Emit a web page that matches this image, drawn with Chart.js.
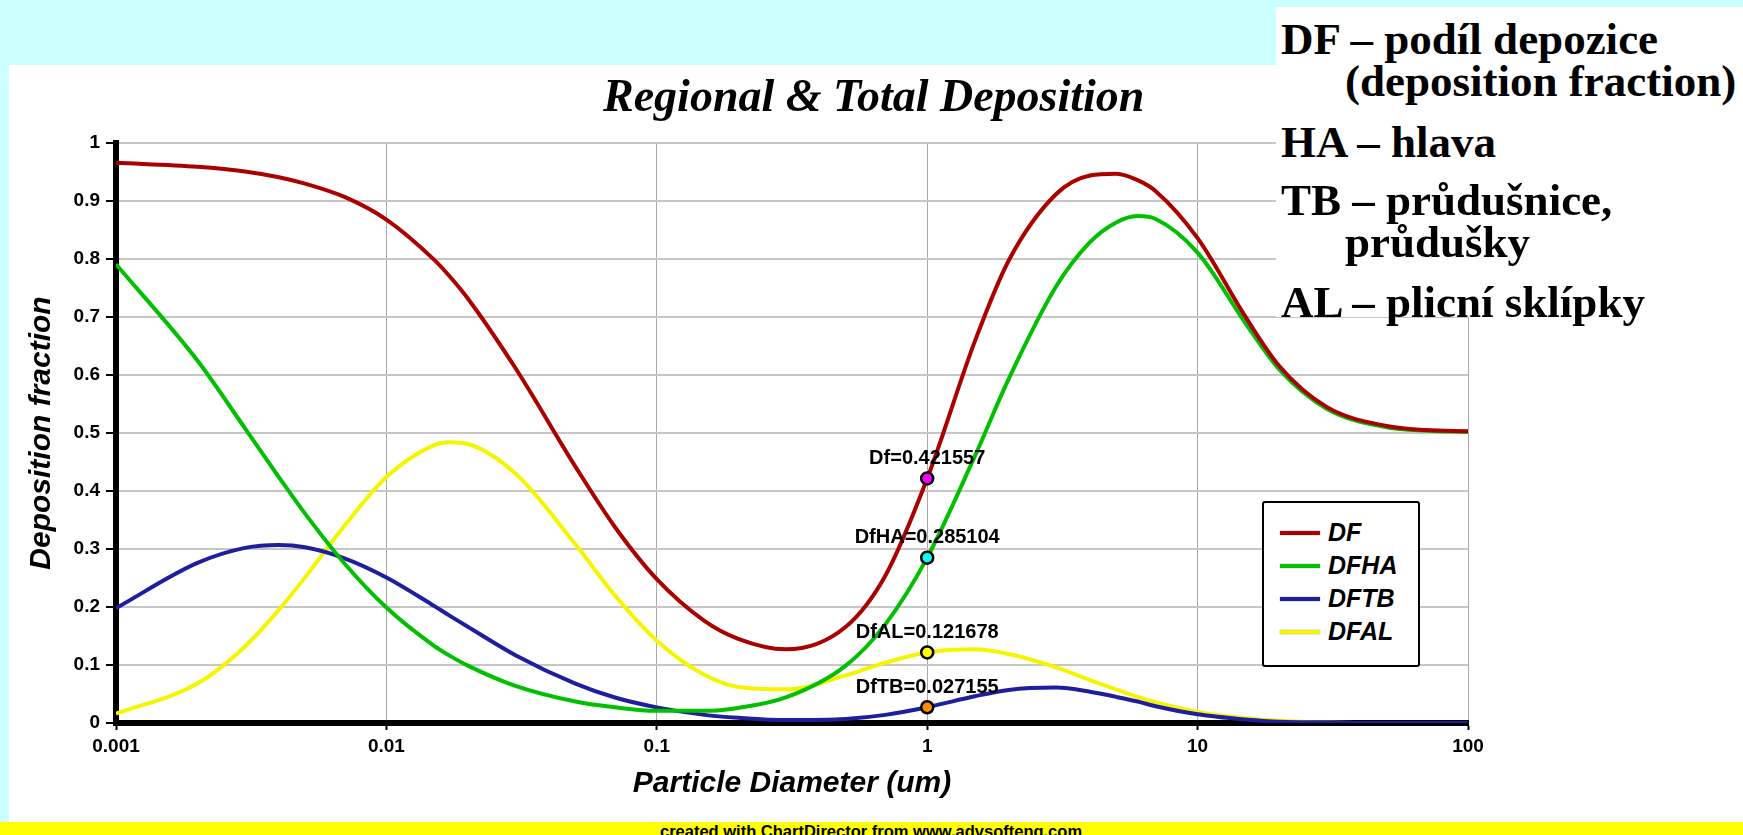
<!DOCTYPE html>
<html lang="cs">
<head>
<meta charset="utf-8">
<title>Regional &amp; Total Deposition</title>
<script src="https://cdn.jsdelivr.net/npm/chart.js@4.4.1/dist/chart.umd.min.js"></script>
<style>
  html, body { margin: 0; padding: 0; }
  body {
    width: 1743px; height: 835px; position: relative; overflow: hidden;
    background: #ccffff; font-family: 'Liberation Sans', Arial, sans-serif;
  }
  #panel { position: absolute; left: 9px; top: 65px; width: 1734px; height: 757px; background: #fff; }
  #footer { position: absolute; left: 0; top: 822px; width: 1743px; height: 13px; background: #ffff00; overflow: hidden; }
  #footer span { position: absolute; left: 660px; top: 1px; font: bold 16.5px/16.5px 'Liberation Sans', Arial, sans-serif; white-space: nowrap; }
  #chart { position: absolute; left: 0; top: 0; }
  #title { position: absolute; left: 603px; top: 73px; font: italic bold 46px/46px 'Liberation Serif', serif; white-space: nowrap; }

  #legend {
    position: absolute; left: 1262px; top: 501px; width: 158px; height: 166px;
    box-sizing: border-box; border: 2.5px solid #000; border-radius: 3px; background: #fff;
    padding: 13px 0 0 16px;
  }
  .legend-row { height: 33px; display: flex; align-items: center; font: italic bold 25px 'Liberation Sans', Arial, sans-serif; }
  .legend-swatch { display: inline-block; width: 40px; height: 4px; margin-right: 8px; box-shadow: 0 0 1px #000; }

  #notes { position: absolute; left: 1276px; top: 7px; width: 467px; height: 310px; background: #fff; }
  .note { position: absolute; font: bold 45px/45px 'Liberation Serif', serif; white-space: nowrap; }
</style>
</head>
<body>
<div id="panel"></div>
<div id="footer"><span>created with ChartDirector from www.advsofteng.com</span></div>
<canvas id="chart" width="1743" height="835"></canvas>
<div id="title">Regional &amp; Total Deposition</div>
<div id="legend"></div>
<div id="notes">
  <div class="note" style="left:5px;top:10px">DF – podíl depozice</div>
  <div class="note" style="left:69px;top:52px">(deposition fraction)</div>
  <div class="note" style="left:5px;top:113px">HA – hlava</div>
  <div class="note" style="left:5px;top:171px">TB – průdušnice,</div>
  <div class="note" style="left:69px;top:213px">průdušky</div>
  <div class="note" style="left:5px;top:273px">AL – plicní sklípky</div>
</div>

<script>
'use strict';
/* ============================================================
   Regional & Total Deposition — deposition fraction vs. particle size
   ============================================================ */

// particle diameter (um)
const diameters = [0.001, 0.002, 0.003, 0.004, 0.005, 0.007, 0.01, 0.015, 0.017, 0.02, 0.03, 0.05, 0.07,
                   0.1, 0.15, 0.2, 0.3, 0.5, 0.7, 1, 1.5, 2, 3, 4, 5, 6, 7, 10, 15, 20, 30, 50, 70, 100];

const dfTotal    = [0.966, 0.959, 0.951, 0.941, 0.930, 0.907, 0.868, 0.799, 0.772, 0.732, 0.612, 0.442, 0.338,
                    0.248, 0.176, 0.145, 0.127, 0.166, 0.254, 0.421557, 0.658, 0.797, 0.912, 0.944, 0.947,
                    0.936, 0.917, 0.836, 0.701, 0.616, 0.545, 0.512, 0.505, 0.503];
const dfHead     = [0.791, 0.625, 0.508, 0.424, 0.361, 0.275, 0.199, 0.133, 0.117, 0.099, 0.064, 0.037, 0.027,
                    0.021, 0.021, 0.026, 0.044, 0.099, 0.170, 0.285104, 0.460, 0.593, 0.753, 0.829, 0.863,
                    0.874, 0.869, 0.811, 0.690, 0.610, 0.542, 0.510, 0.504, 0.502];
const dfTracheo  = [0.198, 0.276, 0.302, 0.307, 0.303, 0.284, 0.251, 0.202, 0.186, 0.166, 0.117, 0.068, 0.044,
                    0.027, 0.014, 0.009, 0.005, 0.007, 0.014, 0.027155, 0.046, 0.057, 0.061, 0.054, 0.045,
                    0.037, 0.029, 0.015, 0.006, 0.002, 0.001, 0, 0, 0];
const dfAlveolar = [0.016, 0.068, 0.132, 0.195, 0.251, 0.340, 0.424, 0.479, 0.484, 0.481, 0.430, 0.308, 0.220,
                    0.142, 0.083, 0.062, 0.058, 0.082, 0.104, 0.121678, 0.127, 0.119, 0.096, 0.074, 0.058,
                    0.045, 0.036, 0.019, 0.008, 0.004, 0.001, 0, 0, 0];

const seriesNames  = ['DF', 'DFHA', 'DFTB', 'DFAL'];
const seriesValues = [dfTotal, dfHead, dfTracheo, dfAlveolar];
const seriesColors = ['#aa0000', '#00c000', '#1e1e9e', '#f5f500'];

// marked values at 1 um
const markerX      = 1;
const markerNames  = ['Df', 'DfHA', 'DfTB', 'DfAL'];
const markerValues = [0.421557, 0.285104, 0.027155, 0.121678];
const markerColors = ['#ff00ff', '#00ffff', '#ff8c00', '#ffff00'];

const xTicks      = [0.001, 0.01, 0.1, 1, 10, 100];
const xTickLabels = ['0.001', '0.01', '0.1', '1', '10', '100'];
const yTicks      = [0, 0.1, 0.2, 0.3, 0.4, 0.5, 0.6, 0.7, 0.8, 0.9, 1];
const yTickLabels = ['0', '0.1', '0.2', '0.3', '0.4', '0.5', '0.6', '0.7', '0.8', '0.9', '1'];

const FONT = "'Liberation Sans', Arial, sans-serif";
Chart.defaults.font.family = FONT;
Chart.defaults.color = '#000';

// ── value labels above the markers ──────────────────────────
const markerLabels = {
  id: 'markerLabels',
  afterDatasetsDraw(chart) {
    const idx = chart.data.datasets.findIndex(d => d.isMarker);
    const meta = chart.getDatasetMeta(idx);
    const ctx = chart.ctx;
    ctx.save();
    ctx.font = `bold 20px ${FONT}`;
    ctx.fillStyle = '#000';
    ctx.textAlign = 'center';
    ctx.textBaseline = 'middle';
    meta.data.forEach((pt, i) => {
      ctx.fillText(`${markerNames[i]}=${markerValues[i]}`, pt.x, pt.y - 20);
    });
    ctx.restore();
  }
};

const lineSets = seriesNames.map((name, s) => ({
  label: name,
  data: diameters.map((x, i) => ({ x, y: seriesValues[s][i] })),
  borderColor: seriesColors[s],
  borderWidth: 4,
  pointRadius: 0,
  cubicInterpolationMode: 'monotone',
  fill: false
}));

const markerSet = {
  label: 'markers',
  isMarker: true,
  type: 'scatter',
  order: -1,
  data: markerValues.map(v => ({ x: markerX, y: v })),
  pointRadius: 6,
  pointBorderWidth: 2.5,
  pointBorderColor: '#000',
  pointBackgroundColor: markerColors,
  showLine: false
};

const chart = new Chart(document.getElementById('chart'), {
  type: 'line',
  data: { datasets: [...lineSets, markerSet] },
  options: {
    responsive: false,
    devicePixelRatio: 1,
    animation: false,
    layout: { padding: { left: 20, right: 275, top: 143, bottom: 29 } },
    plugins: { legend: { display: false }, tooltip: { enabled: false } },
    scales: {
      x: {
        type: 'logarithmic',
        min: 0.001,
        max: 100,
        afterBuildTicks: axis => { axis.ticks = xTicks.map(v => ({ value: v })); },
        afterFit: axis => { axis.height = 83; },
        ticks: {
          callback: (v, i) => xTickLabels[i],
          font: { size: 19, weight: 'bold' },
          color: '#000',
          padding: 5,
          autoSkip: false,
          maxRotation: 0
        },
        grid: { color: '#a8a8a8', lineWidth: 1, tickLength: 7, tickColor: '#000', tickWidth: 2 },
        border: { display: true, color: '#000', width: 6 },
        title: {
          display: true,
          text: 'Particle Diameter (um)',
          font: { size: 30, weight: 'bold', style: 'italic' },
          color: '#000',
          padding: { top: 4, bottom: 4 }
        }
      },
      y: {
        min: 0,
        max: 1,
        afterBuildTicks: axis => { axis.ticks = yTicks.map(v => ({ value: v })); },
        afterFit: axis => { axis.width = 96; },
        ticks: {
          callback: (v, i) => yTickLabels[i],
          font: { size: 19, weight: 'bold' },
          color: '#000',
          padding: 6
        },
        grid: { color: '#c6c6c6', lineWidth: 2, tickLength: 10, tickColor: '#000', tickWidth: 2 },
        border: { display: true, color: '#000', width: 6 },
        title: {
          display: true,
          text: 'Deposition fraction',
          font: { size: 30, weight: 'bold', style: 'italic' },
          color: '#000',
          padding: { top: 4, bottom: 4 }
        }
      }
    }
  },
  plugins: [markerLabels]
});

// ── legend box built from the line datasets ─────────────────
function buildLegend(ch) {
  const box = document.getElementById('legend');
  box.innerHTML = ch.data.datasets.filter(d => !d.isMarker).map(d => `
    <div class="legend-row"><span class="legend-swatch" style="background:${d.borderColor}"></span>${d.label}</div>
  `).join('');
}
buildLegend(chart);
</script>
</body>
</html>
